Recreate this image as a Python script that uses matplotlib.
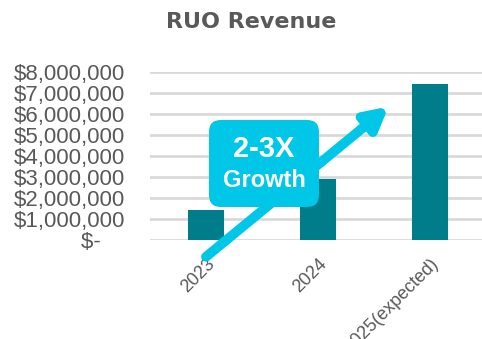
import matplotlib
matplotlib.use("Agg")
import matplotlib.pyplot as plt
from matplotlib.patches import FancyBboxPatch
from matplotlib.ticker import FuncFormatter

years = ["2023", "2024", "2025(expected)"]
revenue = [1450000, 2900000, 7450000]
y_ticks = [0, 1000000, 2000000, 3000000, 4000000, 5000000, 6000000, 7000000, 8000000]
title = "RUO Revenue"
badge_lines = ["2-3X", "Growth"]

BAR = "#007D8A"
CYAN = "#00C6E8"
GRAY = "#595959"
GRID = "#D9D9D9"

plt.rcParams["font.family"] = ["Liberation Sans", "DejaVu Sans"]

fig = plt.figure(figsize=(4.82, 3.39), dpi=100)
ax = fig.add_axes([150 / 482, (339 - 240) / 339, 336 / 482, 168 / 339])

x = list(range(len(years)))
ax.bar(x, revenue, width=0.32, color=BAR, zorder=3)

ax.set_xlim(-0.5, 2.5)
ax.set_ylim(0, 8000000)
ax.set_yticks(y_ticks)
ax.yaxis.set_major_formatter(FuncFormatter(
    lambda v, p: "$-    " if v == 0 else "${:,.0f}".format(v)))
ax.grid(axis="y", color=GRID, linewidth=2, zorder=0)
ax.set_axisbelow(True)
for s in ax.spines.values():
    s.set_visible(False)
ax.tick_params(axis="y", length=0, pad=18, labelsize=16, labelcolor=GRAY)
ax.set_xticks(x)
ax.set_xticklabels(years, rotation=45, ha="right", rotation_mode="anchor",
                   fontsize=13, color=GRAY)
ax.tick_params(axis="x", length=0, pad=11)

fig.text(251 / 482, 1 - 22 / 339, title, ha="center", va="center",
         fontsize=16, fontweight="bold", color=GRAY, family="DejaVu Sans")

# growth arrow, in data coordinates
ax.annotate("", xy=(1.63, 6350000), xytext=(0.0, -800000),
            arrowprops=dict(arrowstyle="-|>,head_length=1.3,head_width=0.7",
                            color=CYAN, lw=7, shrinkA=0, shrinkB=0),
            annotation_clip=False, zorder=5)

# rounded badge, in inches so the corners stay round
badge = FancyBboxPatch((2.09 + 0.1, 1.32 + 0.1), 1.10 - 0.2, 0.87 - 0.2,
                       boxstyle="round,pad=0.1,rounding_size=0.12",
                       transform=fig.dpi_scale_trans, facecolor=CYAN,
                       edgecolor="none", zorder=6)
fig.add_artist(badge)
fig.text(264 / 482, 1 - 149 / 339, badge_lines[0], ha="center", va="center",
         fontsize=21, fontweight="bold", color="white", zorder=7)
fig.text(264 / 482, 1 - 180 / 339, badge_lines[1], ha="center", va="center",
         fontsize=17, fontweight="bold", color="white", zorder=7)

fig.savefig("out.png", dpi=100)
